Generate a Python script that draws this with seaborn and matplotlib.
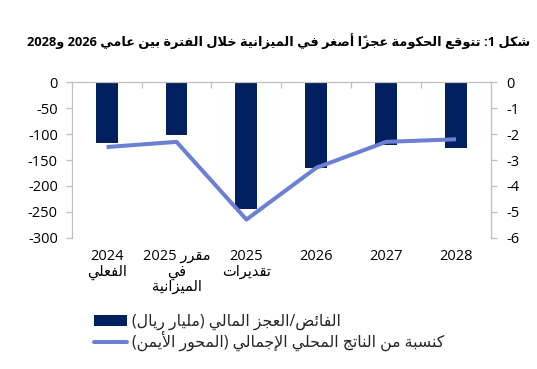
"""
Budget balance chart (Arabic labels)
Bars: fiscal surplus/deficit, line: share of GDP on the right axis
"""

import numpy as np
import matplotlib
matplotlib.use('Agg')
import matplotlib.pyplot as plt
from matplotlib.patches import Patch
from matplotlib.lines import Line2D
import seaborn as sns

# Data
categories = ['2024\nالفعلي', 'مقرر 2025\nفي\nالميزانية', '2025\nتقديرات', '2026', '2027', '2028']
balance = [-117, -102, -245, -166, -121, -126]          # SAR bn (left axis)
gdp_share = [-2.5, -2.3, -5.3, -3.3, -2.3, -2.2]         # % of GDP (right axis)
left_ticks = [0, -50, -100, -150, -200, -250, -300]
right_ticks = [0, -1, -2, -3, -4, -5, -6]

title = 'شكل 1: تتوقع الحكومة عجزاً أصغر في الميزانية خلال الفترة بين عامي 2026 و2028'
legend_labels = ['الفائض/العجز المالي (مليار ريال)',
                 'كنسبة من الناتج المحلي الإجمالي (المحور الأيمن)']

NAVY = '#002060'
LINE = '#6b7fd3'
GRID = '#bfbfbf'

# --- minimal Arabic shaping + RTL ordering (matplotlib has no bidi support) ---
_forms_src = [
    ('آ', 0xFE81, 2), ('أ', 0xFE83, 2), ('ؤ', 0xFE85, 2), ('إ', 0xFE87, 2), ('ئ', 0xFE89, 4),
    ('ا', 0xFE8D, 2), ('ب', 0xFE8F, 4), ('ة', 0xFE93, 2), ('ت', 0xFE95, 4), ('ث', 0xFE99, 4),
    ('ج', 0xFE9D, 4), ('ح', 0xFEA1, 4), ('خ', 0xFEA5, 4), ('د', 0xFEA9, 2), ('ذ', 0xFEAB, 2),
    ('ر', 0xFEAD, 2), ('ز', 0xFEAF, 2), ('س', 0xFEB1, 4), ('ش', 0xFEB5, 4), ('ص', 0xFEB9, 4),
    ('ض', 0xFEBD, 4), ('ط', 0xFEC1, 4), ('ظ', 0xFEC5, 4), ('ع', 0xFEC9, 4), ('غ', 0xFECD, 4),
    ('ف', 0xFED1, 4), ('ق', 0xFED5, 4), ('ك', 0xFED9, 4), ('ل', 0xFEDD, 4), ('م', 0xFEE1, 4),
    ('ن', 0xFEE5, 4), ('ه', 0xFEE9, 4), ('و', 0xFEED, 2), ('ى', 0xFEEF, 2), ('ي', 0xFEF1, 4),
]
FORMS = {c: [start + k for k in range(n)] for c, start, n in _forms_src}
LAM_ALEF = {'آ': 0xFEF5, 'أ': 0xFEF7, 'إ': 0xFEF9, 'ا': 0xFEFB}
MIRROR = {'(': ')', ')': '('}


def _is_mark(c):
    return '\u064b' <= c <= '\u0652'


def _shape(text):
    """Return list of glyph clusters with contextual forms applied"""
    units = []
    i = 0
    while i < len(text):
        c = text[i]
        if _is_mark(c) and units:
            units[-1][1] += c
            i += 1
            continue
        if c == 'ل' and i + 1 < len(text) and text[i + 1] in LAM_ALEF:
            code = LAM_ALEF[text[i + 1]]
            units.append([c, '', [code, code + 1]])
            i += 2
            continue
        units.append([c, '', FORMS.get(c)])
        i += 1

    clusters = []
    for k, (c, marks, forms) in enumerate(units):
        if forms is None:
            clusters.append(c + marks)
            continue
        prev = units[k - 1][2] if k > 0 else None
        nxt = units[k + 1][2] if k + 1 < len(units) else None
        jp = prev is not None and len(prev) == 4
        jn = len(forms) == 4 and nxt is not None
        idx = 3 if (jp and jn) else 1 if jp else 2 if jn else 0
        clusters.append(chr(forms[idx]) + marks)
    return clusters


def ar(text):
    """Convert logical Arabic text into a visual left-to-right string"""
    lines = []
    for line in text.split('\n'):
        runs = []
        for cl in _shape(line):
            is_num = cl[0] in '0123456789'
            if runs and runs[-1][0] == is_num:
                runs[-1][1].append(cl)
            else:
                runs.append([is_num, [cl]])
        out = []
        for is_num, cls in reversed(runs):
            if is_num:
                out.append(''.join(cls))
            else:
                out.append(''.join(MIRROR.get(c, c) for c in reversed(cls)))
        lines.append(''.join(out))
    return '\n'.join(lines)


# --- plotting ---
sns.set_theme(style='white')
plt.rcParams['font.family'] = ['Open Sans', 'DejaVu Sans']
plt.rcParams['axes.unicode_minus'] = False

fig = plt.figure(figsize=(5.37, 3.69), dpi=100)
ax = fig.add_axes([71.7 / 537, 1 - 237.7 / 369, (491 - 71.7) / 537, (237.7 - 82.3) / 369])

labels = [ar(c) for c in categories]
sns.barplot(x=labels, y=balance, color=NAVY, saturation=1, width=0.314,
            linewidth=0, ax=ax)
ax.set_xlim(-0.5, len(categories) - 0.5)
ax.set_ylim(-300, 0)
ax.set_yticks(left_ticks)
ax.set_yticklabels([str(t) for t in left_ticks])
ax.set_xlabel('')
ax.set_ylabel('')

# right axis line
ax2 = ax.twinx()
sns.lineplot(x=np.arange(len(categories)), y=gdp_share, color=LINE, lw=2.9,
             solid_capstyle='butt', ax=ax2)
ax2.set_ylim(-6, 0)
ax2.set_yticks(right_ticks)
ax2.set_yticklabels([str(t) for t in right_ticks])
ax2.set_ylabel('')

# spines and ticks
for a in (ax, ax2):
    for s in a.spines.values():
        s.set_visible(False)
        s.set_color(GRID)
        s.set_linewidth(0.9)
ax.spines['left'].set_visible(True)
ax.spines['top'].set_visible(True)
ax2.spines['right'].set_visible(True)

ax.tick_params(axis='y', left=True, length=4, width=0.9, color=GRID, pad=6,
               labelsize=10.5, labelcolor='black')
ax2.tick_params(axis='y', right=True, length=4, width=0.9, color=GRID, pad=7,
                labelsize=10.5, labelcolor='black')
ax.tick_params(axis='x', which='major', length=0, pad=8, labelsize=10.5, labelcolor='black')
ax.set_xticks(np.arange(0.5, len(categories) - 1, 1), minor=True)
ax.tick_params(axis='x', which='minor', top=True, bottom=False, direction='in',
               length=4, width=0.9, color=GRID)
for t in ax.get_xticklabels():
    t.set_linespacing(1.05)

# title, sized to span the same width as in the reference (~505 px)
ttl = fig.text(530 / 537, 1 - 41 / 369, ar(title), ha='right', va='center',
               fontsize=10, fontweight='bold', color='black')
renderer = fig.canvas.get_renderer()
w = ttl.get_window_extent(renderer).width
ttl.set_fontsize(10 * 505 / w)

# legend
handles = [Patch(facecolor=NAVY, edgecolor='none'),
           Line2D([], [], color=LINE, lw=2.9)]
fig.legend(handles, [ar(l) for l in legend_labels], loc='upper left',
           bbox_to_anchor=(94 / 537, 1 - 314 / 369), frameon=False,
           fontsize=11.3, handlelength=2.1, handletextpad=0.3,
           labelspacing=0.05, borderpad=0, borderaxespad=0)

fig.savefig('out.png', dpi=100)
